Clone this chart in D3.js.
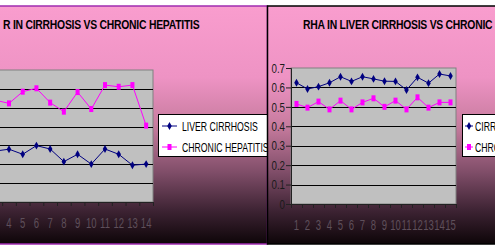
<!DOCTYPE html>
<html>
<head>
<meta charset="utf-8">
<script src="https://cdn.jsdelivr.net/npm/d3@7"></script>
<style>
  body { margin: 0; background: #fff; }
  svg { display: block; }
  text { font-family: "Liberation Sans", Arial, sans-serif; }
</style>
</head>
<body>
<div id="chart"></div>
<script>
// data
const leftCategories = ["1", "2", "3", "4", "5", "6", "7", "8", "9", "10", "11", "12", "13", "14"];
const leftCirrhosis = [0.26, 0.24, 0.27, 0.28, 0.253, 0.299, 0.281, 0.214, 0.253, 0.201, 0.281, 0.253, 0.195, 0.201];
const leftHepatitis = [0.56, 0.5, 0.54, 0.523, 0.585, 0.603, 0.527, 0.479, 0.583, 0.493, 0.62, 0.611, 0.62, 0.405];

const rightCategories = ["1", "2", "3", "4", "5", "6", "7", "8", "9", "10", "11", "12", "13", "14", "15"];
const rightCirrhosis = [0.624, 0.592, 0.604, 0.624, 0.655, 0.631, 0.655, 0.644, 0.632, 0.631, 0.587, 0.652, 0.622, 0.669, 0.659];
const rightHepatitis = [0.515, 0.496, 0.527, 0.487, 0.532, 0.487, 0.523, 0.544, 0.5, 0.532, 0.487, 0.549, 0.496, 0.523, 0.523];

const yTicks = [0, 0.1, 0.2, 0.3, 0.4, 0.5, 0.6, 0.7];
const yTickLabels = ["0", "0.1", "0.2", "0.3", "0.4", "0.5", "0.6", "0.7"];

const leftTitle = "R IN CIRRHOSIS VS CHRONIC HEPATITIS";
const rightTitle = "RHA IN LIVER CIRRHOSIS VS CHRONIC HEPATITIS";
const leftNames = ["LIVER CIRRHOSIS", "CHRONIC HEPATITIS"];
const rightNames = ["CIRRHOSIS", "CHRONIC HEPATITIS"];

const W = 495, H = 252;
const navy = "#000080", pink = "#ff00ff";

const svg = d3.select("#chart").append("svg")
    .attr("width", W).attr("height", H);

const defs = svg.append("defs");
const grad = defs.append("linearGradient")
    .attr("id", "bg")
    .attr("gradientUnits", "userSpaceOnUse")
    .attr("x1", 0).attr("y1", 6).attr("x2", 0).attr("y2", 244);
[[0, "#f99dce"], [0.3, "#ee93c4"], [0.5, "#c87c9f"], [0.7, "#7f4d68"], [0.86, "#3d2333"], [1, "#0d0508"]]
    .forEach(([o, c]) => grad.append("stop").attr("offset", o).attr("stop-color", c));

// squeeze text horizontally so it fills a given width
function fitFactor(str, size, weight, target) {
    const t = svg.append("text").attr("font-size", size).attr("font-weight", weight).text(str);
    const w = t.node().getComputedTextLength();
    t.remove();
    return target / w;
}

const titleF = fitFactor(leftTitle, 13, "bold", 205);
const legendF = fitFactor(leftNames[0], 12, "normal", 76);

function drawPanel(p) {
    const g = svg.append("g");

    // chart area background
    g.append("rect")
        .attr("x", p.panel[0]).attr("y", 6)
        .attr("width", p.panel[1] - p.panel[0]).attr("height", 238)
        .attr("fill", "url(#bg)")
        .attr("stroke", p.border).attr("stroke-width", 1.5);

    // title
    g.append("text")
        .attr("transform", `translate(${p.titleX},${p.titleY}) scale(${titleF},1)`)
        .attr("font-size", 13).attr("font-weight", "bold").attr("fill", "#000")
        .attr("letter-spacing", -0.3)
        .text(p.title);

    const x = d3.scaleBand()
        .domain(p.cats)
        .range([p.plot.left, p.plot.right]);
    const xb = d3.scaleLinear()
        .domain([0, p.cats.length])
        .range([p.plot.left, p.plot.right]);
    const y = d3.scaleLinear()
        .domain([0, 0.7])
        .range([p.plot.bottom, p.plot.top]);

    // plot area
    g.append("rect")
        .attr("x", p.plot.left).attr("y", p.plot.top)
        .attr("width", p.plot.right - p.plot.left)
        .attr("height", p.plot.bottom - p.plot.top)
        .attr("fill", "#c0c0c0").attr("stroke", "#808080");

    // gridlines
    g.append("g")
        .selectAll("line")
        .data(yTicks.filter(d => d > 0 && d < 0.7))
        .enter()
        .append("line")
            .attr("x1", p.plot.left).attr("x2", p.plot.right)
            .attr("y1", d => Math.round(y(d)) + 0.5)
            .attr("y2", d => Math.round(y(d)) + 0.5)
            .attr("stroke", "#000");

    // Y axis
    const yAxis = g.append("g")
        .attr("transform", `translate(${p.plot.left},0)`)
        .call(d3.axisLeft(y).tickValues(yTicks).tickFormat((d, i) => yTickLabels[i]).tickSize(5).tickPadding(2));
    yAxis.selectAll("path, line").attr("stroke", "#222");
    yAxis.selectAll("text")
        .attr("font-size", 13).attr("fill", "#1a1a1a")
        .attr("font-family", "'Liberation Sans', Arial, sans-serif")
        .attr("transform", "scale(0.75,1)")
        .attr("x", -6 / 0.75);

    // X axis: tick marks between categories
    const xTicks = g.append("g")
        .attr("transform", `translate(0,${p.plot.bottom})`)
        .call(d3.axisBottom(xb).tickValues(d3.range(p.cats.length + 1)).tickFormat("").tickSize(4));
    xTicks.selectAll("path, line").attr("stroke", "#222");

    // X axis labels
    const xLabels = g.append("g")
        .attr("transform", `translate(0,${p.plot.bottom})`)
        .call(d3.axisBottom(x).tickSize(0).tickPadding(16));
    xLabels.select(".domain").remove();
    xLabels.selectAll("text")
        .attr("font-size", 14).attr("fill", "#5e4f5a")
        .attr("font-family", "'Liberation Sans', Arial, sans-serif")
        .attr("transform", "scale(0.68,1)");

    // series
    const cx = (d, i) => x(p.cats[i]) + x.bandwidth() / 2;
    const line = d3.line().x(cx).y(d => y(d));

    g.append("path")
        .datum(p.s1)
        .attr("d", line)
        .attr("fill", "none").attr("stroke", navy).attr("stroke-width", 1);
    g.append("path")
        .datum(p.s2)
        .attr("d", line)
        .attr("fill", "none").attr("stroke", pink).attr("stroke-width", 1);

    const diamond = d3.symbol().type(d3.symbolDiamond).size(18);
    g.append("g")
        .selectAll("path")
        .data(p.s1)
        .enter()
        .append("path")
            .attr("d", diamond)
            .attr("transform", (d, i) => `translate(${cx(d, i)},${y(d)})`)
            .attr("fill", navy);
    g.append("g")
        .selectAll("rect")
        .data(p.s2)
        .enter()
        .append("rect")
            .attr("x", (d, i) => cx(d, i) - 2)
            .attr("y", d => y(d) - 3)
            .attr("width", 4).attr("height", 6)
            .attr("fill", pink);

    // legend
    const lg = g.append("g");
    lg.append("rect")
        .attr("x", p.legend.x + 0.5).attr("y", 114.5)
        .attr("width", 130).attr("height", 42)
        .attr("fill", "#fff").attr("stroke", "#000");
    const rowY = [126, 147];
    const L = p.legend;
    lg.append("line")
        .attr("x1", L.l1).attr("x2", L.l2).attr("y1", rowY[0]).attr("y2", rowY[0])
        .attr("stroke", navy);
    lg.append("path")
        .attr("d", diamond)
        .attr("transform", `translate(${L.m},${rowY[0]})`)
        .attr("fill", navy);
    lg.append("line")
        .attr("x1", L.l1).attr("x2", L.l2).attr("y1", rowY[1]).attr("y2", rowY[1])
        .attr("stroke", pink);
    lg.append("rect")
        .attr("x", L.m - 2).attr("y", rowY[1] - 3)
        .attr("width", 4).attr("height", 6)
        .attr("fill", pink);
    lg.selectAll("text")
        .data(p.names)
        .enter()
        .append("text")
            .attr("transform", (d, i) => `translate(${L.tx},${rowY[i] + 4.5}) scale(${legendF},1)`)
            .attr("font-size", 12).attr("fill", "#000")
            .text(d => d);
}

// left panel (mostly cropped off on the left)
drawPanel({
    panel: [-80, 267.5],
    border: "#a02cb0",
    title: leftTitle, titleX: 3, titleY: 28.5,
    cats: leftCategories, s1: leftCirrhosis, s2: leftHepatitis,
    plot: {left: -39, right: 153, top: 70, bottom: 202},
    legend: {x: 158, l1: 162, l2: 177, m: 169.5, tx: 182},
    names: leftNames
});

// right panel
drawPanel({
    panel: [267.5, 620],
    border: "#000",
    title: rightTitle, titleX: 303, titleY: 29,
    cats: rightCategories, s1: rightCirrhosis, s2: rightHepatitis,
    plot: {left: 291, right: 456, top: 68, bottom: 204},
    legend: {x: 462, l1: 465, l2: 473, m: 469, tx: 475},
    names: rightNames
});
</script>
</body>
</html>
